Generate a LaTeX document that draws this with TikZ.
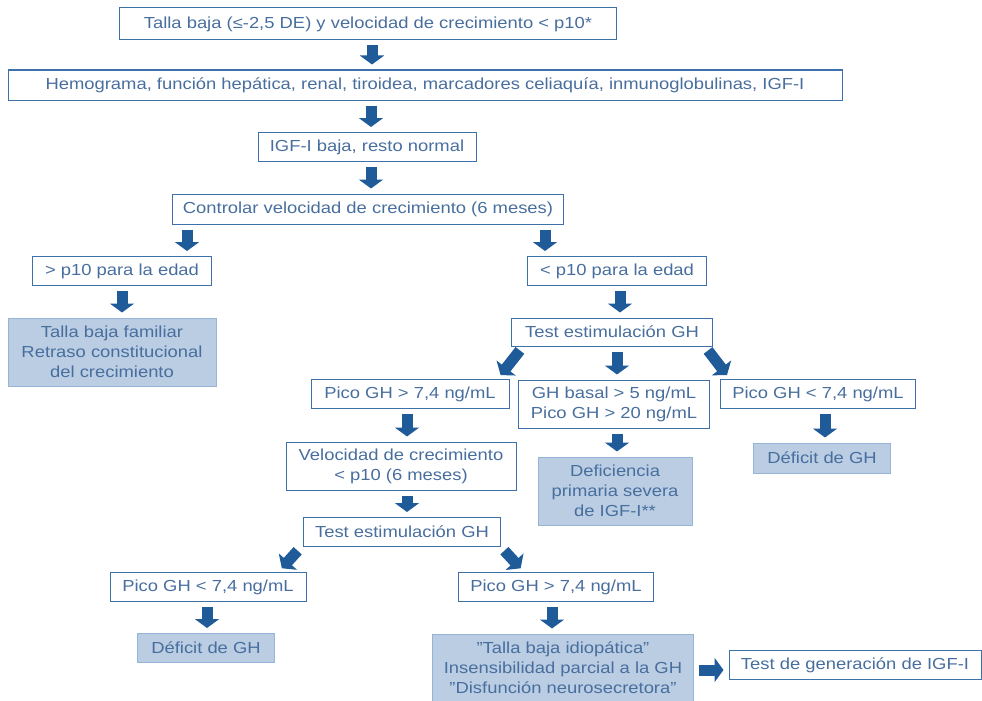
\documentclass[tikz,border=0pt]{standalone}
\usepackage{fontspec}
\setmainfont{Liberation Sans}[FakeStretch=1.15]
\usetikzlibrary{arrows.meta}
\definecolor{boxline}{RGB}{62,112,170}
\definecolor{boxtext}{RGB}{72,110,158}
\definecolor{boxfill}{RGB}{186,205,227}
\definecolor{fillline}{RGB}{150,180,214}
\definecolor{arrowblue}{RGB}{31,91,152}
\begin{document}
\begin{tikzpicture}[x=1pt, y=-1pt,
    boxstyle/.style={draw=boxline, line width=1pt, text=boxtext, inner sep=0pt,
      align=center, font=\fontsize{16}{20}\selectfont},
    fillstyle/.style={boxstyle, draw=fillline, fill=boxfill},
    arrowstyle/.style={arrowblue, line width=11pt,
      -{Triangle[width=24pt 0, length=9pt 0]}, shorten <=5pt, shorten >=5pt}
]
    \useasboundingbox (0,0) rectangle (982,701);
    % Trunk
    \node[boxstyle, minimum width=497pt, minimum height=32pt] (t1) at (368,24)
      {Talla baja (≤-2,5 DE) y velocidad de crecimiento < p10*};
    \node[boxstyle, minimum width=834pt, minimum height=30pt] (t2) at (425,85)
      {Hemograma, función hepática, renal, tiroidea, marcadores celiaquía, inmunoglobulinas, IGF-I};
    \node[boxstyle, minimum width=218pt, minimum height=29pt] (t3) at (367,147)
      {IGF-I baja, resto normal};
    \node[boxstyle, minimum width=391pt, minimum height=30pt] (t4) at (368,209)
      {Controlar velocidad de crecimiento (6 meses)};
    % Left branch
    \node[boxstyle, minimum width=179pt, minimum height=29pt] (t5) at (122,271)
      {> p10 para la edad};
    \node[fillstyle, minimum width=208pt, minimum height=68pt] (t7) at (112,352)
      {Talla baja familiar\\Retraso constitucional\\del crecimiento};
    % Right branch
    \node[boxstyle, minimum width=179pt, minimum height=29pt] (t6) at (617,271)
      {< p10 para la edad};
    \node[boxstyle, minimum width=201pt, minimum height=28pt] (t8) at (612,332)
      {Test estimulación GH};
    \node[boxstyle, minimum width=198pt, minimum height=29pt] (t9) at (410,394)
      {Pico GH > 7,4 ng/mL};
    \node[boxstyle, minimum width=191pt, minimum height=48pt] (t10) at (614,404)
      {GH basal > 5 ng/mL\\Pico GH > 20 ng/mL};
    \node[boxstyle, minimum width=195pt, minimum height=29pt] (t11) at (818,394)
      {Pico GH < 7,4 ng/mL};
    \node[boxstyle, minimum width=230pt, minimum height=48pt] (t12) at (401,466)
      {Velocidad de crecimiento\\< p10 (6 meses)};
    \node[fillstyle, minimum width=154pt, minimum height=68pt] (t13) at (615,491)
      {Deficiencia\\primaria severa\\de IGF-I**};
    \node[fillstyle, minimum width=137pt, minimum height=30pt] (t14) at (822,458)
      {Déficit de GH};
    \node[boxstyle, minimum width=197pt, minimum height=29pt] (t15) at (402,532)
      {Test estimulación GH};
    \node[boxstyle, minimum width=196pt, minimum height=29pt] (t16) at (208,587)
      {Pico GH < 7,4 ng/mL};
    \node[boxstyle, minimum width=195pt, minimum height=29pt] (t17) at (556,587)
      {Pico GH > 7,4 ng/mL};
    \node[fillstyle, minimum width=137pt, minimum height=29pt] (t18) at (206,648)
      {Déficit de GH};
    \node[fillstyle, minimum width=261pt, minimum height=68pt] (t19) at (563,668)
      {"Talla baja idiopática"\\Insensibilidad parcial a la GH\\"Disfunción neurosecretora"};
    \node[boxstyle, minimum width=252pt, minimum height=29pt] (t20) at (855,665)
      {Test de generación de IGF-I};
    % Block arrows
    \draw[arrowstyle] ([xshift=4pt]t1.south) -- ([xshift=4pt]t1.south |- t2.north);
    \draw[arrowstyle] ([xshift=4pt]t2.south -| t3.north) -- ([xshift=4pt]t3.north);
    \draw[arrowstyle] ([xshift=4pt]t3.south) -- ([xshift=4pt]t3.south |- t4.north);
    \draw[arrowstyle] ([xshift=15pt]t4.south west) -- ([xshift=15pt]t4.south west |- t5.north);
    \draw[arrowstyle] ([xshift=-19pt]t4.south east) -- ([xshift=-19pt]t4.south east |- t6.north);
    \draw[arrowstyle] (t5.south) -- (t5.south |- t7.north);
    \draw[arrowstyle] ([xshift=3pt]t6.south) -- ([xshift=3pt]t6.south |- t8.north);
    \draw[arrowstyle] ([xshift=12pt]t8.south west) -- ([xshift=-12pt]t9.north east);
    \draw[arrowstyle] ([xshift=5pt]t8.south) -- ([xshift=5pt]t8.south |- t10.north);
    \draw[arrowstyle] ([xshift=-8pt]t8.south east) -- ([xshift=10pt]t11.north west);
    \draw[arrowstyle] ([xshift=-3pt]t9.south) -- ([xshift=-3pt]t9.south |- t12.north);
    \draw[arrowstyle] ([xshift=3pt]t10.south) -- ([xshift=3pt]t10.south |- t13.north);
    \draw[arrowstyle] ([xshift=3pt]t14.north |- t11.south) -- ([xshift=3pt]t14.north);
    \draw[arrowstyle] ([xshift=6pt]t12.south) -- ([xshift=6pt]t12.south |- t15.north);
    \draw[arrowstyle] ([xshift=-2pt]t15.south west) -- ([xshift=-28pt]t16.north east);
    \draw[arrowstyle] (t15.south east) -- ([xshift=66pt]t17.north west);
    \draw[arrowstyle] ([xshift=-1pt]t16.south) -- ([xshift=-1pt]t16.south |- t18.north);
    \draw[arrowstyle] ([xshift=-4pt]t17.south) -- ([xshift=-4pt]t17.south |- t19.north);
    \draw[arrowstyle] ([yshift=-2pt]t19.east) -- ([yshift=-2pt]t19.east -| t20.west);
\end{tikzpicture}
\end{document}
